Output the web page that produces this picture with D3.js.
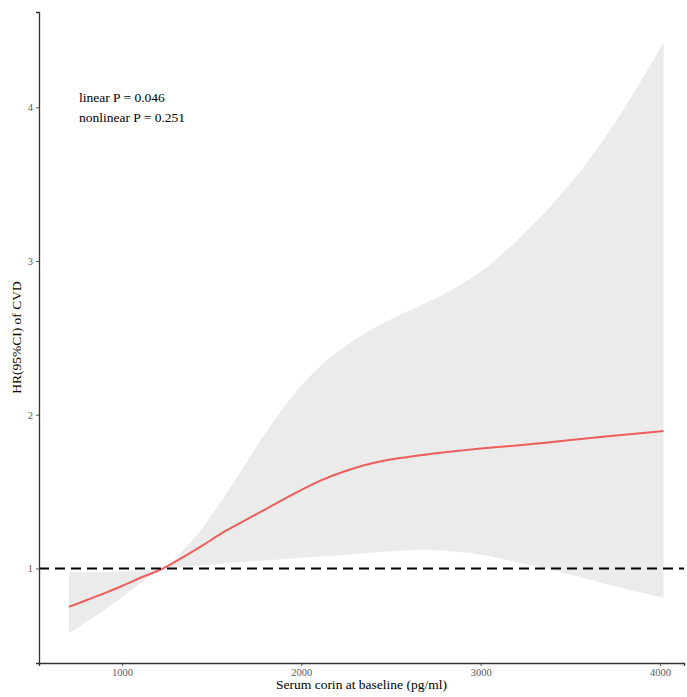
<!DOCTYPE html>
<html><head><meta charset="utf-8">
<script src="https://cdn.jsdelivr.net/npm/d3@7"></script>
<style>body{margin:0;background:#fff}</style>
</head><body>
<script>
const corin = [704, 800, 900, 1000, 1100, 1229, 1350, 1450, 1550, 1650, 1800, 1950, 2100, 2250, 2400, 2550, 2700, 2850, 3000, 3200, 3400, 3600, 3800, 4020];
const hr    = [0.75, 0.793, 0.838, 0.886, 0.938, 1.0, 1.08, 1.15, 1.225, 1.29, 1.385, 1.48, 1.568, 1.636, 1.686, 1.718, 1.742, 1.762, 1.78, 1.80, 1.823, 1.847, 1.87, 1.895];
const upper = [0.975, 0.975, 0.977, 0.98, 0.986, 1.0, 1.13, 1.265, 1.43, 1.61, 1.88, 2.12, 2.31, 2.45, 2.56, 2.65, 2.73, 2.82, 2.93, 3.13, 3.37, 3.65, 3.99, 4.42];
const lower = [0.58, 0.65, 0.73, 0.815, 0.90, 1.0, 1.012, 1.02, 1.03, 1.04, 1.052, 1.065, 1.078, 1.09, 1.104, 1.115, 1.12, 1.11, 1.09, 1.04, 0.99, 0.93, 0.87, 0.81];
const xTicks = [1000, 2000, 3000, 4000];
const yTicks = [1, 2, 3, 4];
const annotations = ["linear P = 0.046", "nonlinear P = 0.251"];
const xTitle = "Serum corin at baseline (pg/ml)";
const yTitle = "HR(95%CI) of CVD";

const W = 687, H = 697;
const m = {l: 39, r: 684, t: 12, b: 663};
const svg = d3.select("body").append("svg").attr("width", W).attr("height", H);
const x = d3.scaleLinear().domain([537, 4134]).range([m.l, m.r]);
const y = d3.scaleLinear().domain([0.385, 4.62]).range([m.b, m.t]);
const data = corin.map((c, i) => ({c, hr: hr[i], lo: lower[i], up: upper[i]}));
const font = "'Liberation Serif', 'Times New Roman', serif";
const curve = d3.curveCatmullRom.alpha(0.5);

svg.append("path").datum(data)
  .attr("fill", "#ebebeb")
  .attr("d", d3.area().x(d => x(d.c)).y0(d => y(d.lo)).y1(d => y(d.up)).curve(curve));

svg.append("path").datum(data)
  .attr("fill", "none").attr("stroke", "#ee5e5a").attr("stroke-width", 2)
  .attr("d", d3.line().x(d => x(d.c)).y(d => y(d.hr)).curve(curve));

svg.append("line")
  .attr("x1", m.l).attr("x2", m.r).attr("y1", y(1)).attr("y2", y(1))
  .attr("stroke", "#000").attr("stroke-width", 2).attr("stroke-dasharray", "10,6");

const xAxis = svg.append("g").attr("transform", `translate(0,${m.b})`)
  .call(d3.axisBottom(x).tickValues(xTicks).tickFormat(d3.format("d")).tickSize(3).tickPadding(3));
const yAxis = svg.append("g").attr("transform", `translate(${m.l},0)`)
  .call(d3.axisLeft(y).tickValues(yTicks).tickFormat(d3.format("d")).tickSize(3).tickPadding(3));
[xAxis, yAxis].forEach(g => {
  g.select(".domain").attr("stroke", "#333").attr("stroke-width", 1.3);
  g.selectAll(".tick line").attr("stroke", "#555");
  g.selectAll(".tick text").attr("fill", "#5a5a5a").style("font-family", font).style("font-size", "10.5px");
});

svg.append("text").attr("x", (m.l + m.r) / 2).attr("y", 689)
  .attr("text-anchor", "middle").style("font-family", font).style("font-size", "13.5px").attr("fill", "#000")
  .text(xTitle);
svg.append("text").attr("transform", `translate(21,${(m.t + m.b) / 2}) rotate(-90)`)
  .attr("text-anchor", "middle").style("font-family", font).style("font-size", "13.5px").attr("fill", "#000")
  .text(yTitle);

annotations.forEach((t, i) => {
  svg.append("text").attr("x", 79).attr("y", 102 + i * 20)
    .style("font-family", font).style("font-size", "13.5px").attr("fill", "#000").text(t);
});
</script>
</body></html>
